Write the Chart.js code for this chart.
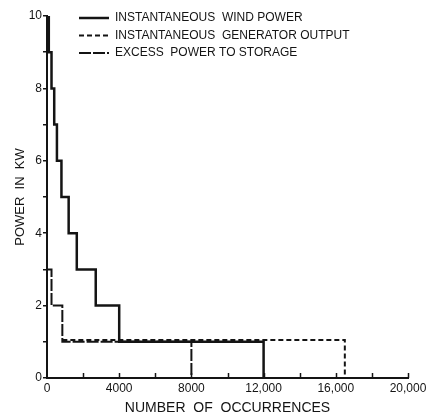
<!DOCTYPE html>
<html>
<head>
<meta charset="utf-8">
<script src="https://cdn.jsdelivr.net/npm/chart.js@4/dist/chart.umd.min.js"></script>
<style>
  html, body { margin: 0; padding: 0; background: #fff; }
  #wrap { width: 434px; height: 417px; }
</style>
</head>
<body>
<div id="wrap"><canvas id="chart" width="434" height="417"></canvas></div>
<script>
// staircase corners: the level of the previous entry is held up to each x, then drops to this y
const windX = [0, 100, 250, 400, 550, 800, 1200, 1650, 2700, 4000, 12000];
const windY = [10, 9, 8, 7, 6, 5, 4, 3, 2, 1, 0];

const generatorX = [850, 16500];
const generatorY = [1.05, 0];

const excessX = [0, 250, 850, 8000];
const excessY = [3, 2, 1, 0];

const xTickValues = [0, 4000, 8000, 12000, 16000, 20000];
const xTickLabels = ["0", "4000", "8000", "12,000", "16,000", "20,000"];
const yTickLabels = ["0", "2", "4", "6", "8", "10"];

const seriesLabels = [
  "INSTANTANEOUS  WIND POWER",
  "INSTANTANEOUS  GENERATOR OUTPUT",
  "EXCESS  POWER TO STORAGE",
];

const FONT = "'Liberation Sans', Arial, sans-serif";
const INK = "#141414";

function toPoints(xs, ys) {
  return xs.map((x, i) => ({ x: x, y: ys[i] }));
}

// inward minor ticks on the x axis, every 2000
const xTickPlugin = {
  id: "xTicks",
  afterDraw(chart) {
    const ctx = chart.ctx;
    const xs = chart.scales.x;
    const bottom = chart.chartArea.bottom;
    ctx.save();
    ctx.strokeStyle = INK;
    ctx.lineWidth = 1.5;
    for (let v = 2000; v <= 20000; v += 2000) {
      const px = Math.round(xs.getPixelForValue(v)) + 0.5;
      ctx.beginPath();
      ctx.moveTo(px, bottom);
      ctx.lineTo(px, bottom - 5);
      ctx.stroke();
    }
    ctx.restore();
  },
};

const legendPlugin = {
  id: "sketchLegend",
  afterDraw(chart) {
    const ctx = chart.ctx;
    ctx.save();
    ctx.font = "12px " + FONT;
    ctx.fillStyle = INK;
    ctx.textBaseline = "middle";
    chart.data.datasets.forEach((ds, i) => {
      const y = 18 + i * 17.5;
      ctx.strokeStyle = INK;
      ctx.lineWidth = ds.borderWidth;
      ctx.setLineDash(ds.borderDash || []);
      ctx.beginPath();
      ctx.moveTo(79, y);
      ctx.lineTo(109, y);
      ctx.stroke();
      ctx.setLineDash([]);
      ctx.fillText(ds.label, 115, y);
    });
    ctx.restore();
  },
};

new Chart(document.getElementById("chart"), {
  type: "line",
  data: {
    datasets: [
      {
        label: seriesLabels[0],
        data: toPoints(windX, windY),
        borderColor: INK,
        borderWidth: 2.5,
        stepped: "before",
        pointRadius: 0,
      },
      {
        label: seriesLabels[1],
        data: toPoints(generatorX, generatorY),
        borderColor: INK,
        borderWidth: 2,
        borderDash: [5, 3],
        stepped: "before",
        pointRadius: 0,
      },
      {
        label: seriesLabels[2],
        data: toPoints(excessX, excessY),
        borderColor: INK,
        borderWidth: 2,
        borderDash: [12, 2],
        stepped: "before",
        pointRadius: 0,
      },
    ],
  },
  options: {
    responsive: false,
    animation: false,
    layout: { padding: { top: 16, right: 26, left: 0, bottom: 0 } },
    plugins: {
      legend: { display: false },
      tooltip: { enabled: false },
    },
    scales: {
      x: {
        type: "linear",
        min: 0,
        max: 20000,
        afterBuildTicks: (scale) => {
          scale.ticks = xTickValues.map((v) => ({ value: v }));
        },
        ticks: {
          callback: (v) => xTickLabels[xTickValues.indexOf(v)],
          color: INK,
          font: { family: FONT, size: 12 },
          padding: 3,
          maxRotation: 0,
        },
        grid: { display: false, drawTicks: false },
        border: { display: true, color: INK, width: 2 },
        title: {
          display: true,
          text: "NUMBER  OF  OCCURRENCES",
          color: INK,
          font: { family: FONT, size: 14 },
          padding: { top: 2, bottom: 0 },
        },
        afterFit: (scale) => {
          scale.height = 39;
        },
      },
      y: {
        type: "linear",
        min: 0,
        max: 10,
        ticks: {
          stepSize: 1,
          callback: (v) => (v % 2 === 0 ? yTickLabels[v / 2] : ""),
          color: INK,
          font: { family: FONT, size: 12 },
          padding: 1,
        },
        grid: {
          drawOnChartArea: false,
          drawTicks: true,
          tickLength: 4,
          color: INK,
          lineWidth: 1.5,
        },
        border: { display: true, color: INK, width: 2 },
        title: {
          display: true,
          text: "POWER  IN  KW",
          color: INK,
          font: { family: FONT, size: 13 },
          padding: { top: 13, bottom: 4 },
        },
        afterFit: (scale) => {
          scale.width = 47;
        },
      },
    },
  },
  plugins: [xTickPlugin, legendPlugin],
});
</script>
</body>
</html>
